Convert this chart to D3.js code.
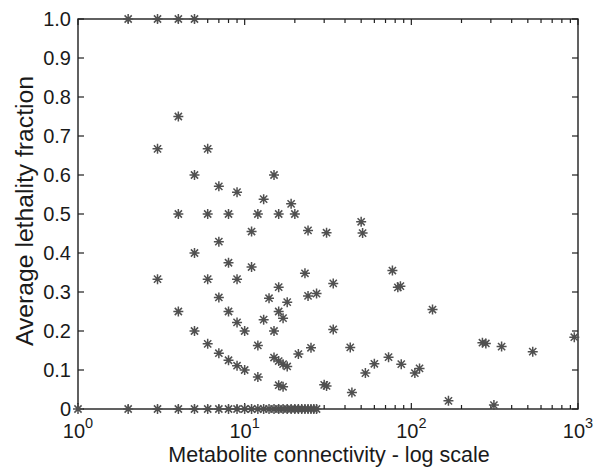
<!DOCTYPE html>
<html><head><meta charset="utf-8">
<script src="https://cdn.jsdelivr.net/npm/d3@7"></script>
<style>body{margin:0;background:#fff}svg{display:block}</style>
</head><body>
<svg id="c" width="595" height="470"></svg>
<script>
// Data
const connectivity = [
  1,2,3,4,5,6,7,8,9,10,11,12,13,14,15,16,17,18,19,20,21,22,23,24,25,26,27,
  2,3,4,5,
  4,
  3,6,
  5,15,
  7,9,13,19,
  4,6,8,12,16,20,
  50,51,
  11,24,31,
  7,5,8,11,23,77,
  3,6,9,34,16,83,86,
  7,14,18,24,27,
  134,
  4,8,16,17,13,9,
  5,10,15,34,
  950,267,280,348,535,
  6,12,25,43,
  7,21,15,73,
  8,16,17,18,60,87,112,105,53,
  9,10,12,
  16,17,30,31,
  44,167,313
];
const lethality = [
  0,0,0,0,0,0,0,0,0,0,0,0,0,0,0,0,0,0,0,0,0,0,0,0,0,0,0,
  1,1,1,1,
  0.75,
  0.667,0.667,
  0.6,0.6,
  0.571,0.556,0.538,0.526,
  0.5,0.5,0.5,0.5,0.5,0.5,
  0.48,0.451,
  0.455,0.458,0.452,
  0.429,0.4,0.375,0.364,0.348,0.355,
  0.333,0.333,0.333,0.322,0.3125,0.312,0.315,
  0.286,0.284,0.274,0.29,0.296,
  0.255,
  0.25,0.25,0.25,0.233,0.229,0.222,
  0.2,0.2,0.2,0.204,
  0.184,0.17,0.168,0.16,0.147,
  0.167,0.163,0.157,0.158,
  0.143,0.141,0.132,0.133,
  0.125,0.123,0.115,0.109,0.116,0.115,0.104,0.092,0.092,
  0.111,0.1,0.082,
  0.061,0.057,0.062,0.059,
  0.042,0.021,0.01
];
const yTickValues = [0,0.1,0.2,0.3,0.4,0.5,0.6,0.7,0.8,0.9,1.0];
const yTickLabels = ["0","0.1","0.2","0.3","0.4","0.5","0.6","0.7","0.8","0.9","1.0"];
const xTickExponents = [0,1,2,3];
const xTitle = "Metabolite connectivity - log scale";
const yTitle = "Average lethality fraction";

const svg = d3.select("#c");
const L = 78, R = 578, T = 19, B = 409;
const x = d3.scaleLog().domain([1,1000]).range([L,R]);
const y = d3.scaleLinear().domain([0,1]).range([B,T]);
const axisColor = "#1f1f1f";
const font = "'Liberation Sans', Arial, Helvetica, sans-serif";

const g = svg.append("g");
// frame
g.append("rect").attr("x",L).attr("y",T).attr("width",R-L).attr("height",B-T)
  .attr("fill","none").attr("stroke",axisColor).attr("stroke-width",1.4);

// x ticks (major + minor) bottom & top, inward
const xt = x.ticks();
xt.forEach(v => {
  const major = Math.abs(Math.log10(v) - Math.round(Math.log10(v))) < 1e-9;
  const len = major ? 6 : 4;
  const px = x(v);
  g.append("line").attr("x1",px).attr("x2",px).attr("y1",B).attr("y2",B-len)
    .attr("stroke",axisColor).attr("stroke-width",1.2);
  g.append("line").attr("x1",px).attr("x2",px).attr("y1",T).attr("y2",T+len)
    .attr("stroke",axisColor).attr("stroke-width",1.2);
});
// y ticks left & right, inward
yTickValues.forEach(v => {
  const py = y(v);
  g.append("line").attr("x1",L).attr("x2",L+6).attr("y1",py).attr("y2",py)
    .attr("stroke",axisColor).attr("stroke-width",1.2);
  g.append("line").attr("x1",R).attr("x2",R-6).attr("y1",py).attr("y2",py)
    .attr("stroke",axisColor).attr("stroke-width",1.2);
});

// y tick labels
yTickValues.forEach((v,i) => {
  g.append("text").attr("x",L-7).attr("y",y(v)).attr("dy","0.36em")
    .attr("text-anchor","end").attr("font-family",font).attr("font-size",20)
    .attr("fill","#1a1a1a").text(yTickLabels[i]);
});
// x tick labels 10^n
xTickExponents.forEach(e => {
  const t = g.append("text").attr("x",x(Math.pow(10,e))).attr("y",438)
    .attr("text-anchor","middle").attr("font-family",font).attr("font-size",20)
    .attr("fill","#1a1a1a");
  t.append("tspan").text("10");
  t.append("tspan").attr("dy",-10).attr("font-size",14.5).text(String(e));
});

// axis titles
g.append("text").attr("x",(L+R)/2+1).attr("y",462).attr("text-anchor","middle")
  .attr("font-family",font).attr("font-size",21.5).attr("fill","#1a1a1a").text(xTitle);
g.append("text").attr("transform",`translate(33,211) rotate(-90)`)
  .attr("text-anchor","middle").attr("font-family",font).attr("font-size",23)
  .attr("textLength",270).attr("lengthAdjust","spacingAndGlyphs")
  .attr("fill","#1a1a1a").text(yTitle);

// asterisk markers
const star = "M0,-5V5M-5,0H5M-3.6,-3.6L3.6,3.6M-3.6,3.6L3.6,-3.6";
const pts = connectivity.map((c,i) => ({c, v: lethality[i]}));
svg.append("g").selectAll("path").data(pts).join("path")
  .attr("transform", d => `translate(${x(d.c)},${y(d.v)})`)
  .attr("d", star).attr("fill","none").attr("stroke","#505050").attr("stroke-width",1.5);
</script>
</body></html>
